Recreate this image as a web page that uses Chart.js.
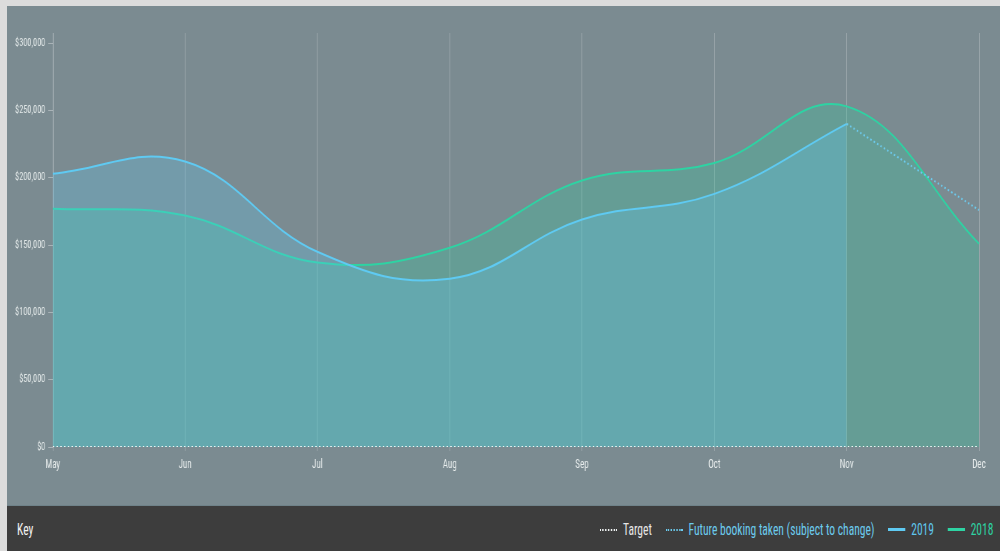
<!DOCTYPE html>
<html>
<head>
<meta charset="utf-8">
<script src="https://cdn.jsdelivr.net/npm/chart.js@4.4.1/dist/chart.umd.min.js"></script>
<style>
  html, body { margin: 0; padding: 0; }
  body {
    width: 1000px; height: 551px; overflow: hidden;
    background: #dcdcdc;
    font-family: "Roboto Condensed", "DejaVu Sans Condensed", sans-serif;
  }
  .panel {
    position: absolute; left: 7px; top: 6px; width: 993px; height: 499px;
    background: #7b8b91; overflow: hidden;
  }
  /* the original picture is squeezed sideways, so is the chart */
  .panel canvas { display: block; transform: scaleX(0.75); transform-origin: 0 0; }
  .keybar {
    position: absolute; left: 7px; top: 505px; width: 993px; height: 46px;
    background: #3d3d3d; border-top: 1px solid #6f8289; box-sizing: border-box;
    overflow: hidden;
  }
  .squeeze { position: absolute; top: 14px; transform: scaleX(0.72); transform-origin: 0 0; white-space: nowrap; font-size: 16px; }
  .key { left: 10px; color: #f2f2f2; }
  .legend { left: 593px; }
  .legend-item { display: inline-block; margin-right: 19px; }
  .legend-line {
    display: inline-block; width: 24px; height: 0; vertical-align: middle;
    margin-right: 8px; position: relative; top: -1px;
  }
</style>
</head>
<body>
<div class="panel"><canvas id="salesChart" width="1324" height="499"></canvas></div>
<div class="keybar">
  <div class="squeeze key">Key</div>
  <div class="squeeze legend" id="salesLegend"></div>
</div>
<script>
// Chart data
const months = ["May", "Jun", "Jul", "Aug", "Sep", "Oct", "Nov", "Dec"];
const target = [0, 0, 0, 0, 0, 0, 0, 0];
const futureBookings = [null, null, null, null, null, null, 240000, 176000];
const sales2019 = [203000, 212000, 145000, 125000, 169000, 188000, 240000, null];
const sales2018 = [177000, 172000, 137000, 148000, 198000, 211000, 253000, 151000];
const yTicks = [0, 50000, 100000, 150000, 200000, 250000, 300000];

const fontFamily = '"Roboto Condensed", "DejaVu Sans Condensed", sans-serif';

const datasets = [
  { label: "Target", data: target, borderColor: "#eef2f2", borderWidth: 2, borderDash: [2, 3], fill: false, tension: 0, legendText: "#e6e6e6" },
  { label: "Future booking taken (subject to change)", data: futureBookings, borderColor: "#6ccbee", borderWidth: 2, borderDash: [2, 3], fill: false, tension: 0, legendText: "#6ccbee" },
  { label: "2019", data: sales2019, borderColor: "#5fcaf2", backgroundColor: "rgba(95, 200, 240, 0.27)", borderWidth: 2, fill: "origin", tension: 0.4, legendText: "#5fc6ee" },
  { label: "2018", data: sales2018, borderColor: "#2ed3a3", backgroundColor: "rgba(46, 204, 160, 0.28)", borderWidth: 2, fill: "origin", tension: 0.4, legendText: "#2ed3a3" },
];

document.addEventListener("DOMContentLoaded", () => {
  const ctx = document.getElementById("salesChart");

  window.salesChart = new Chart(ctx, {
    type: "line",
    data: { labels: months, datasets: datasets },
    options: {
      responsive: false,
      animation: false,
      elements: { point: { radius: 0, hoverRadius: 0 } },
      layout: { padding: { top: 27, right: 28, left: 0, bottom: 0 } },
      plugins: { legend: { display: false }, tooltip: { enabled: false } },
      scales: {
        x: {
          offset: false,
          grid: { color: "rgba(255, 255, 255, 0.25)", lineWidth: 1, drawTicks: true, tickLength: 4 },
          border: { display: false },
          ticks: { color: "#e8eded", font: { family: fontFamily, size: 12 }, padding: 7, maxRotation: 0, autoSkip: false },
          afterFit: (scale) => { scale.height = 58; },
        },
        y: {
          min: 0,
          max: 307500,
          grid: { drawOnChartArea: false, drawTicks: true, tickLength: 6, color: "rgba(255, 255, 255, 0.35)" },
          border: { display: true, color: "rgba(255, 255, 255, 0.3)" },
          afterBuildTicks: (scale) => { scale.ticks = yTicks.map((v) => ({ value: v })); },
          ticks: {
            color: "#e4eaea",
            font: { family: fontFamily, size: 11 },
            padding: 4,
            callback: (value) => "$" + Number(value).toLocaleString("en-US"),
          },
          afterFit: (scale) => { scale.width = 61; },
        },
      },
    },
  });

  // Custom legend in the key bar
  const legend = document.getElementById("salesLegend");
  legend.innerHTML = "";
  datasets.forEach((ds) => {
    const item = document.createElement("span");
    item.className = "legend-item";
    const style = ds.borderDash ? "2px dotted" : "3px solid";
    item.innerHTML = `<span class="legend-line" style="border-top:${style} ${ds.borderColor}"></span><span style="color:${ds.legendText}">${ds.label}</span>`;
    legend.appendChild(item);
  });
});
</script>
</body>
</html>
